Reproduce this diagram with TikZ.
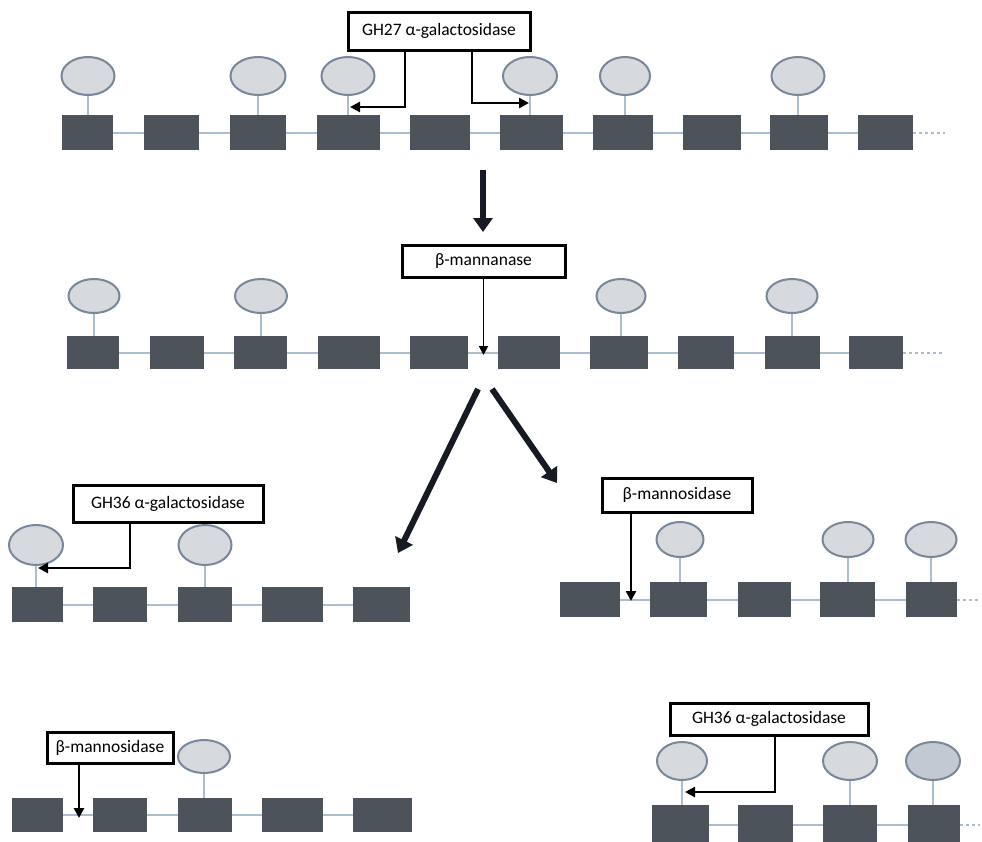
\documentclass[tikz,border=0pt]{standalone}
\usepackage{fontspec}
\setmainfont{Carlito}
\usetikzlibrary{arrows.meta,shapes.geometric}
\definecolor{sugar}{HTML}{4D535B}
\definecolor{galfill}{HTML}{D6D9DD}
\definecolor{galedge}{HTML}{78879A}
\definecolor{chainc}{HTML}{A9BED2}
\definecolor{bigc}{HTML}{161A22}
\tikzset{
 sug/.style={rectangle, fill=sugar, draw=none, inner sep=0pt},
 gal/.style={ellipse, draw=galedge, fill=galfill, line width=2pt, inner sep=0pt},
 chain/.style={draw=chainc, line width=2pt},
 stem/.style={draw=chainc, line width=1.5pt},
 tail/.style={draw=chainc, line width=2pt, dash pattern=on 3pt off 3pt},
 enzyme/.style={rectangle, draw=black, fill=white, line width=3pt, inner sep=0pt, font=\fontsize{17.5}{20}\selectfont},
 cut/.style={draw=black, line width=2.8pt, -{Triangle[length=10pt,width=10pt]}},
 thincut/.style={draw=black, line width=1.8pt, -{Triangle[length=9pt,width=9pt]}},
 big/.style={draw=bigc, line width=6pt, -{Triangle[length=14pt,width=19pt]}},
}
\begin{document}
\begin{tikzpicture}[x=1pt,y=-1pt]
\useasboundingbox (0,0) rectangle (982,841);
\fill[white] (0,0) rectangle (982,841);
\clip (0,0) rectangle (982,841);

% ---------- Row 1 ----------
\foreach \n/\x/\w in {1/87.5/51,2/171.5/55,3/258/56,4/348.5/63,5/440/60,6/531.5/63,7/623/60,8/712/58,9/799/58,10/885.5/55}
  \node[sug,minimum width={\w pt},minimum height=35pt] (a\n) at (\x,132.5) {};
\foreach \i/\j in {1/2,2/3,3/4,4/5,5/6,6/7,7/8,8/9,9/10}
  \draw[chain] (a\i.east) -- (a\j.west);
\coordinate (aend) at (945,132.5);
\draw[tail] (a10.east) -- (aend);
\foreach \n/\x/\w in {1/88/53,3/258/55,4/348/53,6/530/54,7/625/50,9/798/53}
  \node[gal,minimum width={\w pt},minimum height=38pt] (ae\n) at (\x,76) {};
\foreach \n in {1,3,4,6,7,9}
  \draw[stem] (ae\n.south) -- (ae\n.south |- a\n.north);
\node[enzyme,minimum width=182pt,minimum height=38pt] (g27) at (439,31) {GH27 α-galactosidase};
\coordinate (g27l) at (350,107);
\coordinate (g27r) at (529,103);
\draw[cut] ([xshift=-34pt]g27.south) |- (g27l);
\draw[cut] ([xshift=33pt]g27.south) |- (g27r);

% big arrow down
\coordinate (d0) at (483,170);
\coordinate (d1) at (483,232);
\draw[big] (d0) -- (d1);

% ---------- Row 2 ----------
\foreach \n/\x/\w in {1/93/52,2/177/54,3/260.5/53,4/349/62,5/439/58,6/529/62,7/619/58,8/706/56,9/792.5/55,10/876/54}
  \node[sug,minimum width={\w pt},minimum height=33pt] (b\n) at (\x,352.5) {};
\foreach \i/\j in {1/2,2/3,3/4,4/5,5/6,6/7,7/8,8/9,9/10}
  \draw[chain] (b\i.east) -- (b\j.west);
\coordinate (bend) at (943,352.5);
\draw[tail] (b10.east) -- (bend);
\foreach \n/\x/\w in {1/94/51,3/261/52,7/621/49,9/792/51}
  \node[gal,minimum width={\w pt},minimum height=34pt] (be\n) at (\x,296) {};
\foreach \n in {1,3,7,9}
  \draw[stem] (be\n.south) -- (be\n.south |- b\n.north);
\node[enzyme,minimum width=163pt,minimum height=32pt] (bman) at (483.5,261) {β-mannanase};
\coordinate (bcut) at (483.5,355);
\draw[thincut] (bman.south) -- (bcut);

% big diagonal arrows
\coordinate (l0) at (478,389);
\coordinate (l1) at (398,553);
\draw[big] (l0) -- (l1);
\coordinate (r0) at (492,389);
\coordinate (r1) at (557,483);
\draw[big] (r0) -- (r1);

% ---------- Row 3 left ----------
\foreach \n/\x/\w in {1/37.5/51,2/120/54,3/205/54,4/292.5/61,5/381.5/57}
  \node[sug,minimum width={\w pt},minimum height=35pt] (c\n) at (\x,604.5) {};
\foreach \i/\j in {1/2,2/3,3/4,4/5}
  \draw[chain] (c\i.east) -- (c\j.west);
\foreach \n/\x/\w in {1/36/54,3/205/53}
  \node[gal,minimum width={\w pt},minimum height=40pt] (ce\n) at (\x,545) {};
\foreach \n in {1,3}
  \draw[stem] (ce\n.south) -- (ce\n.south |- c\n.north);
\node[enzyme,minimum width=190pt,minimum height=37pt] (g36a) at (168,503.5) {GH36 α-galactosidase};
\coordinate (g36al) at (38,568);
\draw[cut] ([xshift=-38pt]g36a.south) |- (g36al);

% ---------- Row 3 right ----------
\foreach \n/\x/\w in {1/590/60,2/678.5/57,3/764.5/53,4/847.5/55,5/931.5/51}
  \node[sug,minimum width={\w pt},minimum height=35pt] (d\n) at (\x,599.5) {};
\foreach \i/\j in {1/2,2/3,3/4,4/5}
  \draw[chain] (d\i.east) -- (d\j.west);
\coordinate (dend) at (980,599.5);
\draw[tail] (d5.east) -- (dend);
\foreach \n/\x/\w in {2/680/47,4/848/51,5/931/51}
  \node[gal,minimum width={\w pt},minimum height=35pt] (de\n) at (\x,539.5) {};
\foreach \n in {2,4,5}
  \draw[stem] (de\n.south) -- (de\n.south |- d\n.north);
\node[enzyme,minimum width=150pt,minimum height=34pt] (bmosa) at (677,495) {β-mannosidase};
\coordinate (bmosacut) at (631,601);
\draw[cut] ([xshift=-46pt]bmosa.south) -- (bmosacut);

% ---------- Row 4 left ----------
\foreach \n/\x/\w in {1/37.5/51,2/120/54,3/205/54,4/292.5/61,5/382.5/59}
  \node[sug,minimum width={\w pt},minimum height=34pt] (f\n) at (\x,815) {};
\foreach \i/\j in {1/2,2/3,3/4,4/5}
  \draw[chain] (f\i.east) -- (f\j.west);
\node[gal,minimum width=52pt,minimum height=33pt] (fe3) at (204,756.5) {};
\draw[stem] (fe3.south) -- (fe3.south |- f3.north);
\node[enzyme,minimum width=126pt,minimum height=31pt] (bmosb) at (110,747.5) {β-mannosidase};
\coordinate (bmosbcut) at (79,818);
\draw[cut] ([xshift=-31pt]bmosb.south) -- (bmosbcut);

% ---------- Row 4 right ----------
\foreach \n/\x/\w in {1/680.5/57,2/765.5/55,3/850/54,4/934/52}
  \node[sug,minimum width={\w pt},minimum height=40pt] (h\n) at (\x,825) {};
\foreach \i/\j in {1/2,2/3,3/4}
  \draw[chain] (h\i.east) -- (h\j.west);
\coordinate (hend) at (980,825);
\draw[tail] (h4.east) -- (hend);
\foreach \n/\x/\w in {1/682/50,3/850/54}
  \node[gal,minimum width={\w pt},minimum height=38pt] (he\n) at (\x,761) {};
\node[gal,fill=galedge!45,minimum width=54pt,minimum height=38pt] (he4) at (933,761) {};
\foreach \n in {1,3,4}
  \draw[stem] (he\n.south) -- (he\n.south |- h\n.north);
\node[enzyme,minimum width=198pt,minimum height=32pt] (g36b) at (769,719) {GH36 α-galactosidase};
\coordinate (g36bl) at (685,792);
\draw[cut] ([xshift=6pt]g36b.south) |- (g36bl);
\end{tikzpicture}
\end{document}
